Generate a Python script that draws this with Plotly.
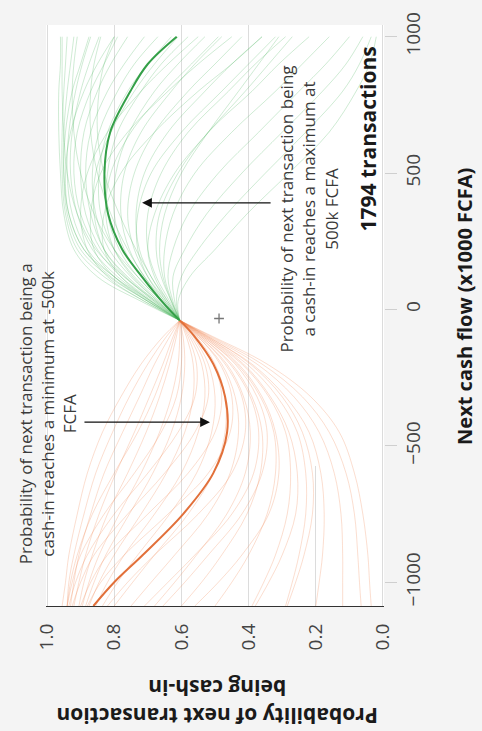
import plotly.graph_objects as go

# Cash-flow sample points (x1000 FCFA) at which each bootstrap curve is read
green_cash = [-40, 30, 120, 220, 350, 500, 650, 800, 900, 1000]
orange_cash = [-40, -100, -200, -320, -450, -600, -750, -900, -1000, -1087]

# Probability of the next transaction being cash-in, one list per resampled curve
green_curves = [
    [0.605, 0.72, 0.85, 0.92, 0.95, 0.96, 0.965, 0.965, 0.96, 0.96],
    [0.605, 0.71, 0.83, 0.91, 0.945, 0.955, 0.955, 0.95, 0.945, 0.94],
    [0.605, 0.70, 0.81, 0.89, 0.935, 0.95, 0.95, 0.94, 0.93, 0.92],
    [0.605, 0.695, 0.80, 0.88, 0.925, 0.94, 0.935, 0.915, 0.895, 0.87],
    [0.605, 0.69, 0.79, 0.865, 0.91, 0.93, 0.925, 0.90, 0.875, 0.845],
    [0.605, 0.685, 0.78, 0.85, 0.90, 0.92, 0.91, 0.87, 0.83, 0.79],
    [0.605, 0.68, 0.77, 0.84, 0.885, 0.90, 0.89, 0.85, 0.81, 0.76],
    [0.605, 0.675, 0.76, 0.83, 0.87, 0.885, 0.87, 0.82, 0.77, 0.71],
    [0.605, 0.67, 0.75, 0.815, 0.855, 0.865, 0.845, 0.79, 0.74, 0.67],
    [0.605, 0.665, 0.74, 0.80, 0.84, 0.845, 0.82, 0.76, 0.70, 0.63],
    [0.605, 0.66, 0.73, 0.785, 0.82, 0.82, 0.79, 0.72, 0.66, 0.58],
    [0.605, 0.655, 0.72, 0.77, 0.80, 0.795, 0.755, 0.68, 0.61, 0.53],
    [0.605, 0.65, 0.71, 0.755, 0.78, 0.77, 0.72, 0.63, 0.56, 0.48],
    [0.605, 0.645, 0.70, 0.74, 0.76, 0.74, 0.68, 0.58, 0.50, 0.42],
    [0.605, 0.64, 0.69, 0.725, 0.735, 0.71, 0.64, 0.53, 0.45, 0.36],
    [0.605, 0.635, 0.675, 0.70, 0.70, 0.66, 0.58, 0.46, 0.38, 0.29],
    [0.605, 0.63, 0.66, 0.675, 0.665, 0.61, 0.52, 0.39, 0.31, 0.22],
    [0.605, 0.628, 0.65, 0.65, 0.625, 0.56, 0.45, 0.32, 0.24, 0.16],
    [0.605, 0.625, 0.64, 0.625, 0.58, 0.49, 0.37, 0.25, 0.17, 0.10],
    [0.605, 0.62, 0.625, 0.59, 0.525, 0.42, 0.30, 0.18, 0.11, 0.06],
    [0.605, 0.615, 0.60, 0.55, 0.465, 0.35, 0.23, 0.12, 0.07, 0.035],
    [0.605, 0.61, 0.575, 0.50, 0.405, 0.28, 0.16, 0.08, 0.04, 0.02],
    [0.605, 0.71, 0.82, 0.88, 0.90, 0.88, 0.82, 0.72, 0.64, 0.55],
    [0.605, 0.70, 0.80, 0.86, 0.87, 0.84, 0.76, 0.64, 0.55, 0.45],
    [0.605, 0.69, 0.78, 0.83, 0.83, 0.78, 0.68, 0.55, 0.45, 0.36],
    [0.605, 0.655, 0.71, 0.76, 0.81, 0.85, 0.87, 0.87, 0.86, 0.84],
    [0.605, 0.645, 0.69, 0.735, 0.785, 0.83, 0.85, 0.845, 0.83, 0.80],
    [0.605, 0.66, 0.73, 0.80, 0.86, 0.90, 0.92, 0.925, 0.92, 0.91],
    [0.605, 0.675, 0.77, 0.855, 0.91, 0.94, 0.95, 0.955, 0.955, 0.955],
    [0.605, 0.68, 0.765, 0.83, 0.86, 0.855, 0.81, 0.74, 0.68, 0.61],
    [0.605, 0.67, 0.745, 0.80, 0.825, 0.81, 0.75, 0.65, 0.57, 0.49],
    [0.605, 0.65, 0.70, 0.73, 0.73, 0.69, 0.60, 0.48, 0.40, 0.32],
    [0.605, 0.64, 0.68, 0.70, 0.68, 0.62, 0.52, 0.41, 0.34, 0.27],
    [0.605, 0.63, 0.655, 0.665, 0.65, 0.60, 0.52, 0.43, 0.37, 0.31],
    [0.605, 0.69, 0.80, 0.89, 0.935, 0.945, 0.93, 0.89, 0.85, 0.80],
    [0.605, 0.70, 0.815, 0.90, 0.94, 0.95, 0.945, 0.925, 0.90, 0.875],
]
orange_curves = [
    [0.605, 0.655, 0.72, 0.78, 0.835, 0.88, 0.91, 0.935, 0.945, 0.955],
    [0.605, 0.645, 0.70, 0.755, 0.805, 0.855, 0.89, 0.92, 0.935, 0.94],
    [0.605, 0.635, 0.68, 0.725, 0.775, 0.83, 0.87, 0.905, 0.92, 0.93],
    [0.605, 0.625, 0.655, 0.695, 0.74, 0.795, 0.845, 0.885, 0.905, 0.92],
    [0.605, 0.615, 0.635, 0.665, 0.705, 0.76, 0.82, 0.865, 0.89, 0.905],
    [0.605, 0.605, 0.61, 0.63, 0.665, 0.72, 0.785, 0.845, 0.875, 0.895],
    [0.605, 0.595, 0.59, 0.60, 0.63, 0.685, 0.755, 0.825, 0.86, 0.885],
    [0.605, 0.585, 0.565, 0.565, 0.59, 0.645, 0.72, 0.80, 0.845, 0.875],
    [0.605, 0.575, 0.54, 0.53, 0.55, 0.60, 0.68, 0.77, 0.82, 0.855],
    [0.605, 0.565, 0.52, 0.50, 0.51, 0.555, 0.635, 0.73, 0.79, 0.835],
    [0.605, 0.555, 0.50, 0.47, 0.47, 0.505, 0.58, 0.68, 0.745, 0.80],
    [0.605, 0.55, 0.48, 0.44, 0.43, 0.455, 0.52, 0.62, 0.69, 0.75],
    [0.605, 0.545, 0.465, 0.415, 0.395, 0.41, 0.465, 0.555, 0.62, 0.68],
    [0.605, 0.54, 0.45, 0.39, 0.36, 0.365, 0.405, 0.48, 0.54, 0.60],
    [0.605, 0.535, 0.435, 0.365, 0.325, 0.32, 0.345, 0.40, 0.45, 0.50],
    [0.605, 0.53, 0.42, 0.34, 0.29, 0.275, 0.285, 0.32, 0.355, 0.39],
    [0.605, 0.525, 0.405, 0.315, 0.255, 0.23, 0.23, 0.25, 0.27, 0.29],
    [0.605, 0.52, 0.39, 0.29, 0.22, 0.185, 0.175, 0.18, 0.19, 0.20],
    [0.605, 0.515, 0.375, 0.265, 0.19, 0.145, 0.125, 0.12, 0.12, 0.12],
    [0.605, 0.51, 0.36, 0.24, 0.16, 0.11, 0.085, 0.075, 0.07, 0.065],
    [0.605, 0.505, 0.345, 0.215, 0.13, 0.085, 0.06, 0.045, 0.04, 0.035],
    [0.605, 0.58, 0.555, 0.56, 0.61, 0.70, 0.80, 0.88, 0.915, 0.935],
    [0.605, 0.57, 0.53, 0.52, 0.56, 0.65, 0.76, 0.86, 0.90, 0.925],
    [0.605, 0.56, 0.505, 0.48, 0.50, 0.58, 0.70, 0.82, 0.87, 0.90],
    [0.605, 0.55, 0.485, 0.45, 0.455, 0.52, 0.64, 0.77, 0.84, 0.88],
    [0.605, 0.545, 0.47, 0.42, 0.41, 0.45, 0.55, 0.68, 0.76, 0.82],
    [0.605, 0.54, 0.455, 0.395, 0.37, 0.385, 0.45, 0.56, 0.64, 0.71],
    [0.605, 0.53, 0.43, 0.36, 0.32, 0.31, 0.34, 0.42, 0.49, 0.56],
    [0.605, 0.525, 0.415, 0.335, 0.28, 0.255, 0.26, 0.30, 0.34, 0.38],
    [0.605, 0.62, 0.645, 0.68, 0.73, 0.80, 0.865, 0.91, 0.93, 0.94],
    [0.605, 0.60, 0.60, 0.615, 0.66, 0.74, 0.83, 0.90, 0.925, 0.94],
    [0.605, 0.535, 0.44, 0.375, 0.345, 0.36, 0.42, 0.52, 0.59, 0.655],
    [0.605, 0.52, 0.395, 0.30, 0.24, 0.21, 0.21, 0.235, 0.26, 0.285],
]

# Fit on the full sample
green_fit = [0.605, 0.658, 0.717, 0.776, 0.818, 0.829, 0.812, 0.752, 0.70, 0.614]
orange_fit = [0.605, 0.56, 0.505, 0.47, 0.464, 0.505, 0.595, 0.715, 0.80, 0.862]

# Observed point marked with a small cross
cross_prob = [0.488]
cross_cash = [-33]

prob_ticks = [0.0, 0.2, 0.4, 0.6, 0.8, 1.0]
cash_ticks = [-1000, -500, 0, 500, 1000]

FONT = "Open Sans"

fig = go.Figure()

for curve in orange_curves:
    fig.add_trace(go.Scatter(
        x=curve, y=orange_cash, mode="lines", hoverinfo="skip",
        line=dict(color="rgba(238,122,66,0.25)", width=1, shape="spline"),
    ))
for curve in green_curves:
    fig.add_trace(go.Scatter(
        x=curve, y=green_cash, mode="lines", hoverinfo="skip",
        line=dict(color="rgba(62,176,84,0.25)", width=1, shape="spline"),
    ))

fig.add_trace(go.Scatter(
    x=orange_fit, y=orange_cash, mode="lines",
    line=dict(color="rgb(226,112,58)", width=2, shape="spline"),
))
fig.add_trace(go.Scatter(
    x=green_fit, y=green_cash, mode="lines",
    line=dict(color="rgb(52,160,72)", width=2, shape="spline"),
))
fig.add_trace(go.Scatter(
    x=cross_prob, y=cross_cash, mode="markers", hoverinfo="skip",
    marker=dict(symbol="cross-thin", size=7, line=dict(color="#777", width=1.3)),
))

# Light panel behind the right-hand note
fig.add_shape(type="rect", layer="between", xref="x", yref="y",
              x0=0.26, x1=0.12, y0=-574, y1=1043,
              fillcolor="white", line=dict(width=0))

note_font = dict(family=FONT, size=17, color="#3a3a3a")
fig.add_annotation(
    xref="paper", yref="paper", x=0.003, y=0.33,
    text="Probability of next transaction being a<br>cash-in reaches a minimum at -500k<br>FCFA",
    showarrow=False, textangle=-90, font=note_font, align="center",
    xanchor="center", yanchor="middle",
)
fig.add_annotation(
    xref="x", yref="y", x=0.515, y=-413, ax=-127, ay=0,
    text="", showarrow=True, arrowhead=2, arrowsize=1.4, arrowwidth=1.4,
    arrowcolor="#111",
)
fig.add_annotation(
    xref="paper", yref="paper", x=0.778, y=0.684,
    text="Probability of next transaction being<br>a cash-in reaches a maximum at<br>500k FCFA",
    showarrow=False, textangle=-90, font=note_font, align="center",
    xanchor="center", yanchor="middle",
)
fig.add_annotation(
    xref="x", yref="y", x=0.717, y=391, ax=130, ay=0,
    text="", showarrow=True, arrowhead=2, arrowsize=1.4, arrowwidth=1.4,
    arrowcolor="#111",
)
fig.add_annotation(
    xref="paper", yref="paper", x=0.953, y=0.803,
    text="<b>1794 transactions</b>", showarrow=False, textangle=-90,
    font=dict(family=FONT, size=21, color="#1a1a1a"),
    xanchor="center", yanchor="middle",
)

# Axis titles
fig.add_annotation(
    xref="paper", yref="paper", x=1.24, y=0.515,
    text="<b>Next cash flow (x1000 FCFA)</b>", showarrow=False, textangle=-90,
    font=dict(family=FONT, size=20, color="#1a1a1a"),
    xanchor="center", yanchor="middle",
)
fig.add_annotation(
    xref="paper", yref="paper", x=0.506, y=-0.165,
    text="<b>Probability of next transaction<br>being cash-in</b>", showarrow=False,
    textangle=180, font=dict(family=FONT, size=21, color="#1a1a1a"),
    xanchor="center", yanchor="middle",
)

fig.update_layout(
    width=482, height=731,
    margin=dict(l=46, r=98, t=18, b=125, pad=0),
    paper_bgcolor="#f4f4f4", plot_bgcolor="white",
    showlegend=False,
    font=dict(family=FONT, color="#444"),
    xaxis=dict(
        range=[1.003, -0.003], tickvals=prob_ticks, tickformat=".1f",
        tickangle=-90, tickfont=dict(size=19, color="#444"),
        showgrid=True, gridcolor="#dcdcdc", gridwidth=1, zeroline=False,
        showline=True, linecolor="#333", linewidth=1.3,
        ticks="outside", ticklen=9, tickcolor="rgba(0,0,0,0)",
        fixedrange=True,
    ),
    yaxis=dict(
        range=[-1087, 1043], tickvals=cash_ticks, side="right",
        tickangle=-90, tickfont=dict(size=19, color="#444"),
        showgrid=False, zeroline=False, showline=False,
        ticks="outside", ticklen=12, tickcolor="#cfcfcf", tickwidth=1,
        fixedrange=True,
    ),
)

fig.write_html("out.html")
